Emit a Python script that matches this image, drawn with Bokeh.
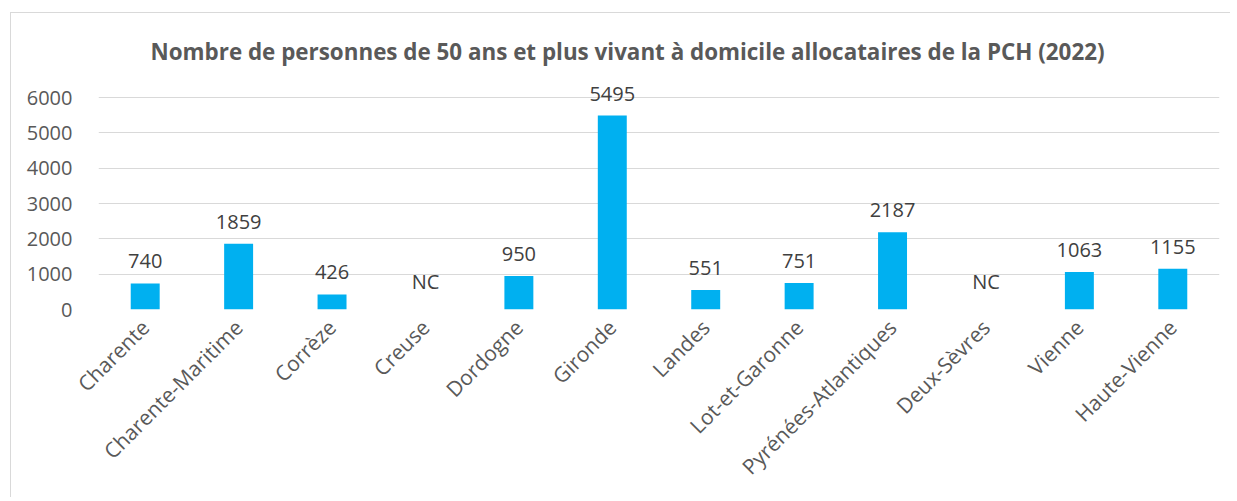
import math
from bokeh.plotting import figure
from bokeh.models import ColumnDataSource, Title
from bokeh.core.properties import value
from bokeh.embed import file_html
from bokeh.resources import INLINE

departements = ["Charente", "Charente-Maritime", "Corrèze", "Creuse", "Dordogne", "Gironde",
                "Landes", "Lot-et-Garonne", "Pyrénées-Atlantiques", "Deux-Sèvres", "Vienne",
                "Haute-Vienne"]
valeurs = [740, 1859, 426, 0, 950, 5495, 551, 751, 2187, 0, 1063, 1155]
etiquettes = ["740", "1859", "426", "NC", "950", "5495", "551", "751", "2187", "NC", "1063", "1155"]
y_ticks = [0, 1000, 2000, 3000, 4000, 5000, 6000]

FONT = "Open Sans"

src = ColumnDataSource(dict(x=departements, top=valeurs, lab=etiquettes))

p = figure(x_range=departements, y_range=(0, 6600), width=1220, height=485,
           output_backend="svg", toolbar_location=None,
           min_border_left=87, min_border_right=12, min_border_top=63, min_border_bottom=189)
p.styles = {"margin-left": "10px", "margin-top": "12px",
            "border-top": "1px solid #d9d9d9", "border-left": "1px solid #d9d9d9"}

p.vbar(x="x", top="top", width=0.31, source=src, fill_color="#00B0F0", line_color=None)
p.text(x="x", y="top", text="lab", source=src, text_align="center", text_baseline="bottom",
       y_offset=-15, text_font=value(FONT), text_font_size="20px", text_color="#404040")

t = Title(text="Nombre de personnes de 50 ans et plus vivant à domicile allocataires de la PCH (2022)",
          align="left", offset=52, text_font=FONT, text_font_size="22.4px",
          text_font_style="bold", text_color="#595959", standoff=20)
p.add_layout(t, "above")

p.outline_line_color = None
p.xgrid.grid_line_color = None
p.ygrid.grid_line_color = "#d9d9d9"
p.ygrid.grid_line_width = 1
p.yaxis.ticker = y_ticks

for ax in (p.xaxis, p.yaxis):
    ax.axis_line_color = None
    ax.major_tick_line_color = None
    ax.minor_tick_line_color = None
    ax.major_label_text_font = FONT
    ax.major_label_text_font_size = "20px"
    ax.major_label_text_color = "#595959"

p.xaxis.major_label_text_font_size = "21px"
p.yaxis.major_label_standoff = 20
p.xaxis.major_label_orientation = math.pi / 4
p.xaxis.major_label_standoff = 8

open("out.html", "w").write(file_html(p, INLINE))
